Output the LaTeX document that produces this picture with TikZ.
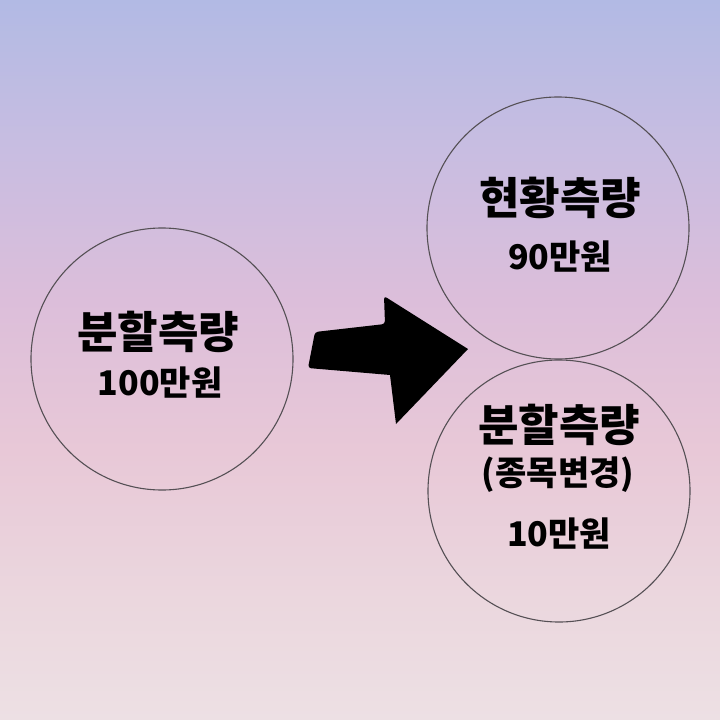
\documentclass[tikz,border=0pt]{standalone}
\usepackage{fontspec}
\newfontfamily\kr{Noto Sans CJK KR}
\definecolor{bgA}{RGB}{178,186,228}
\definecolor{bgB}{RGB}{200,189,225}
\definecolor{bgC}{RGB}{220,190,218}
\definecolor{bgD}{RGB}{232,200,215}
\definecolor{bgE}{RGB}{235,215,222}
\definecolor{bgF}{RGB}{237,224,228}
\definecolor{ringc}{RGB}{85,80,85}
\pgfdeclareverticalshading{bgshade}{100bp}{color(0bp)=(bgF); color(25bp)=(bgF); color(33.33bp)=(bgE); color(43.75bp)=(bgD); color(54.17bp)=(bgC); color(64.58bp)=(bgB); color(75bp)=(bgA); color(100bp)=(bgA)}
\tikzset{
  ring/.style={circle, draw=ringc, line width=1.1pt, minimum size=262pt, inner sep=0pt},
  title/.style={font=\kr\bfseries\fontsize{44}{48}\selectfont, text=black, inner sep=0pt},
  sub/.style={font=\kr\bfseries\fontsize{34}{38}\selectfont, text=black, inner sep=0pt},
}
\begin{document}
\begin{tikzpicture}[x=1pt,y=-1pt]
\useasboundingbox (0,0) rectangle (720,720);
\shade[shading=bgshade] (0,0) rectangle (720,720);
\node[ring] (L) at (162,359) {};
\node[ring] (TR) at (558,228) {};
\node[ring] (BR) at (559,491) {};
\node[title] (Lt) at (158,332) {분할측량};
\node[sub] (Ls) at (160,383) {100만원};
\node[title] (TRt) at (560,198) {현황측량};
\node[sub] (TRs) at (560,257) {90만원};
\node[title] (BRt) at (559,425) {분할측량};
\node[sub] (BRs) at (558,475) {(종목변경)};
\node[sub] (BRv) at (559,534) {10만원};
\fill[black, rounded corners=3pt] (315,332) -- (385,324) -- (384,296) [sharp corners]-- (468,349) -- (396,424) -- (390,375) [rounded corners=3pt]-- (308,368) -- cycle;
\end{tikzpicture}
\end{document}
